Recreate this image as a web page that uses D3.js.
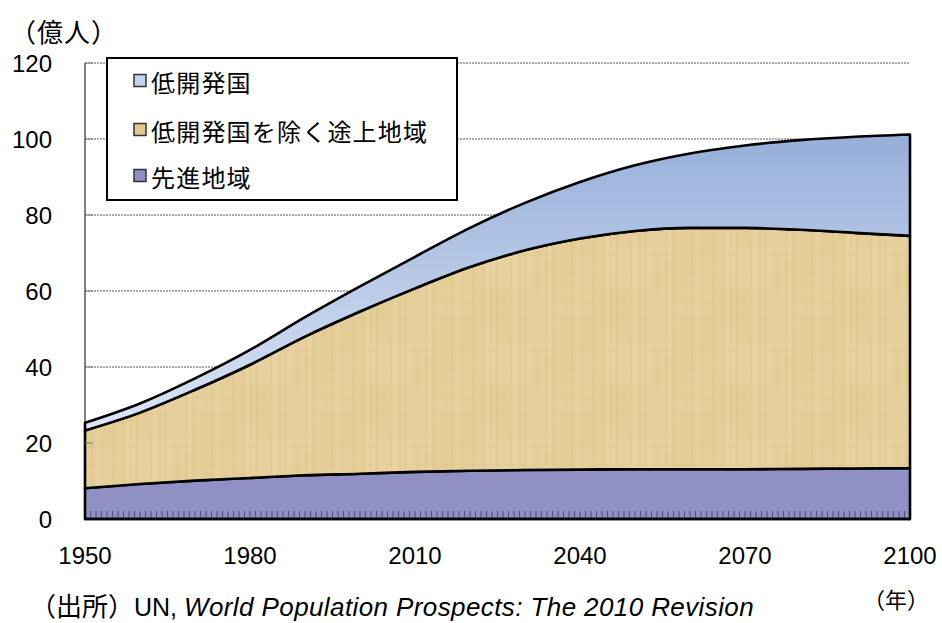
<!DOCTYPE html>
<html><head><meta charset="utf-8">
<script src="https://cdn.jsdelivr.net/npm/d3@7"></script>
<style>
html,body{margin:0;padding:0;background:#fff;}
svg{display:block;}
</style></head>
<body>
<svg id="c" width="942" height="623"></svg>
<script>
// ---- data (億人) ----
const years      = [1950,1960,1970,1980,1990,2000,2010,2020,2030,2040,2050,2060,2070,2080,2090,2100];
const developed  = [8.1, 9.2, 10.1,10.8,11.5,11.9,12.4,12.7,12.9,13.0,13.1,13.1,13.1,13.2,13.3,13.4];
const otherDev   = [15.2,18.8,23.9,29.8,36.5,42.7,48.3,53.6,57.8,60.8,62.7,63.5,63.5,62.9,62.0,61.1];
const ldc        = [2.0, 2.4, 3.0, 3.9, 5.1, 6.6, 8.3, 10.3,12.5,14.9,17.3,19.6,21.7,23.6,25.3,26.7];
const seriesNames = ["先進地域","低開発国を除く途上地域","低開発国"];
const legendOrder = ["低開発国","低開発国を除く途上地域","先進地域"];
const xTicks = [1950,1980,2010,2040,2070,2100];
const yTicks = [0,20,40,60,80,100,120];

const rows = years.map((y,i)=>({year:y,"先進地域":developed[i],"低開発国を除く途上地域":otherDev[i],"低開発国":ldc[i]}));

const svg = d3.select("#c");
const X0=85, X1=910, Y0=519, Y1=63;
const x = d3.scaleLinear().domain([1950,2100]).range([X0,X1]);
const y = d3.scaleLinear().domain([0,120]).range([Y0,Y1]);

const defs = svg.append("defs");
// blue gradient for LDC
const g = defs.append("linearGradient").attr("id","gBlue")
  .attr("gradientUnits","userSpaceOnUse").attr("x1",0).attr("y1",130).attr("x2",0).attr("y2",430);
g.append("stop").attr("offset","0%").attr("stop-color","#95AED9");
g.append("stop").attr("offset","100%").attr("stop-color","#DDE5F5");
// papyrus-like texture (fixed, deterministic strokes)
const PW=120, PH=96;
const pat = defs.append("pattern").attr("id","pTan").attr("patternUnits","userSpaceOnUse")
  .attr("width",PW).attr("height",PH);
pat.append("rect").attr("width",PW).attr("height",PH).attr("fill","#E6CF9B");
const blots=[[0,0,30,40,"#E0C487",0.22],[46,10,28,50,"#EBD6A6",0.3],[80,30,40,36,"#DFC58C",0.2],[10,56,44,40,"#ECD9AC",0.28],[64,70,30,26,"#E2C68A",0.22]];
blots.forEach(([bx,by,bw,bh,c,o])=>pat.append("rect").attr("x",bx).attr("y",by).attr("width",bw).attr("height",bh).attr("fill",c).attr("opacity",o));
const vl=[[3,0.22],[11,0.12],[17,0.25],[26,0.1],[31,0.2],[40,0.14],[45,0.24],[58,0.18],[66,0.12],[73,0.22],[85,0.14],[92,0.2],[104,0.12],[113,0.22]];
const hl=[[5,0.15],[14,0.22],[22,0.1],[30,0.2],[37,0.12],[44,0.18],[55,0.14],[63,0.2],[72,0.12],[81,0.18],[90,0.14]];
vl.forEach(([p,o])=>pat.append("line").attr("x1",p).attr("x2",p).attr("y1",0).attr("y2",PH)
  .attr("stroke","#C4A867").attr("stroke-width",1.2).attr("opacity",o));
hl.forEach(([p,o])=>pat.append("line").attr("y1",p).attr("y2",p).attr("x1",0).attr("x2",PW)
  .attr("stroke","#C4A867").attr("stroke-width",1).attr("opacity",o));
[[8,0.35],[35,0.3],[70,0.3],[98,0.35]].forEach(([p,o])=>pat.append("line").attr("x1",p).attr("x2",p).attr("y1",0).attr("y2",PH)
  .attr("stroke","#F3E3BA").attr("stroke-width",1.5).attr("opacity",o));

const fills = {"先進地域":"#9090C5","低開発国を除く途上地域":"url(#pTan)","低開発国":"url(#gBlue)"};
const legendFill = {"先進地域":"#8F8FC6","低開発国を除く途上地域":"#E2C88C","低開発国":"#C4D2EE"};

// gridlines
svg.append("g").selectAll("line").data(yTicks.filter(d=>d>0)).join("line")
  .attr("x1",X0).attr("x2",X1).attr("y1",d=>y(d)).attr("y2",d=>y(d))
  .attr("stroke","#555").attr("stroke-width",1).attr("stroke-dasharray","2,1");

// stacked areas
const stack = d3.stack().keys(seriesNames);
const layers = stack(rows);
const area = d3.area().x(d=>x(d.data.year)).y0(d=>y(d[0])).y1(d=>y(d[1])).curve(d3.curveMonotoneX);
svg.append("g").selectAll("path").data(layers).join("path")
  .attr("d",area).attr("fill",d=>fills[d.key])
  .attr("stroke","#000").attr("stroke-width",2.6).attr("stroke-linejoin","round");

// x minor ticks (every year, inward)
const minor = d3.range(1951,2100,1);
svg.append("g").selectAll("line").data(minor).join("line")
  .attr("x1",d=>x(d)).attr("x2",d=>x(d)).attr("y1",Y0-8).attr("y2",Y0)
  .attr("stroke","#50507E").attr("stroke-width",1.1);

// y axis line and ticks
svg.append("line").attr("x1",X0).attr("x2",X0).attr("y1",Y1).attr("y2",Y0).attr("stroke","#000").attr("stroke-width",1);
svg.append("g").selectAll("line").data(yTicks.filter(d=>d>0)).join("line")
  .attr("x1",X0).attr("x2",X0+8).attr("y1",d=>y(d)).attr("y2",d=>y(d))
  .attr("stroke","#777").attr("stroke-width",1);
// x axis line
svg.append("line").attr("x1",X0-1).attr("x2",X1+1).attr("y1",Y0).attr("y2",Y0).attr("stroke","#000").attr("stroke-width",2.5);

const numFont = "'Liberation Sans', Arial, sans-serif";
const jpFont = "'Noto Sans CJK JP', sans-serif";

// y labels
svg.append("g").selectAll("text").data(yTicks).join("text")
  .attr("x",52).attr("y",d=>y(d)+3).attr("text-anchor","end").attr("dominant-baseline","middle")
  .attr("font-family",numFont).attr("font-size",24).attr("fill","#000").text(d=>d);
// x labels
svg.append("g").selectAll("text").data(xTicks).join("text")
  .attr("x",d=>x(d)).attr("y",564).attr("text-anchor","middle")
  .attr("font-family",numFont).attr("font-size",24).attr("fill","#000").text(d=>d);

// unit labels
svg.append("text").attr("x",10).attr("y",42).attr("font-family",jpFont).attr("font-size",26).attr("letter-spacing",1).text("（億人）");
svg.append("text").attr("x",863).attr("y",608).attr("font-family",jpFont).attr("font-size",22).text("（年）");

// source
const src = svg.append("text").attr("x",30).attr("y",616).attr("font-family",numFont).attr("font-size",25);
src.append("tspan").attr("font-family",jpFont).attr("font-size",26).text("（出所）");
src.append("tspan").text("UN, ");
src.append("tspan").attr("font-style","italic").attr("font-size",26).attr("letter-spacing",0.4).text("World Population Prospects: The 2010 Revision");

// legend
const lg = svg.append("g");
lg.append("rect").attr("x",107).attr("y",58).attr("width",350).attr("height",142)
  .attr("fill","#fff").attr("stroke","#000").attr("stroke-width",2);
const rowY = [81,130,176];
legendOrder.forEach((k,i)=>{
  lg.append("rect").attr("x",134).attr("y",rowY[i]-6.5).attr("width",12).attr("height",12)
    .attr("fill",legendFill[k]).attr("stroke","#333").attr("stroke-width",1.5);
  lg.append("text").attr("x",151).attr("y",rowY[i]).attr("dominant-baseline","central")
    .attr("font-family",jpFont).attr("font-size",24).attr("letter-spacing",1.2).text(k);
});
</script>
</body></html>
